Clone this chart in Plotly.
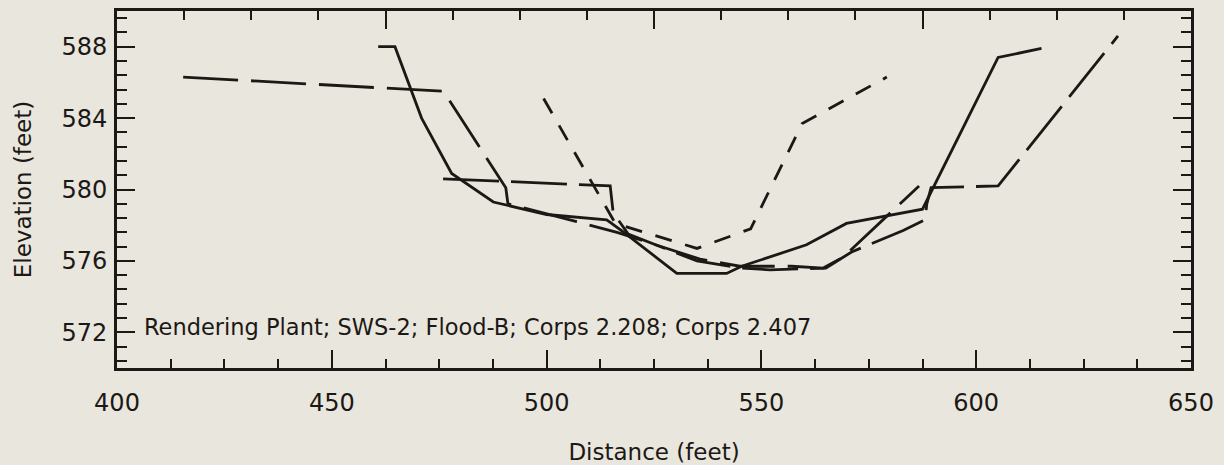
import plotly.graph_objects as go

# Cross-section data (Distance ft, Elevation ft)
solid_x = [460.8, 464.7, 470.9, 477.9, 487.6, 500.0, 514.0, 518.0, 530.3, 541.9, 545.4, 560.5, 569.8, 587.5, 605.1, 615.2]
solid_y = [588.0, 588.0, 584.0, 580.9, 579.3, 578.6, 578.3, 577.6, 575.3, 575.3, 575.7, 576.9, 578.1, 578.9, 587.4, 587.9]

longA_x = [415.4, 476.0, 490.5, 491.0, 507.0, 516.4, 535.7, 545.0, 557.0, 564.4, 569.0, 584.0, 586.7]
longA_y = [586.3, 585.5, 580.1, 579.2, 578.2, 577.6, 576.1, 575.7, 575.7, 575.6, 576.2, 579.6, 580.2]

longB_x = [475.9, 514.8, 515.5, 519.0, 535.0, 545.0, 552.0, 565.0, 571.0, 583.0, 588.1, 588.5, 589.5, 605.1, 633.0]
longB_y = [580.6, 580.2, 578.7, 577.5, 576.0, 575.6, 575.5, 575.6, 576.5, 577.7, 578.3, 579.2, 580.1, 580.2, 588.6]

med_x = [499.3, 516.0, 535.0, 547.5, 559.5, 579.2]
med_y = [585.1, 578.1, 576.7, 577.8, 583.7, 586.3]

label_text = "Rendering Plant; SWS-2; Flood-B; Corps 2.208; Corps 2.407"
x_ticks = [400, 450, 500, 550, 600, 650]
y_ticks = [572, 576, 580, 584, 588]

BG = "#e9e6dd"
INK = "#1c1816"
FONT = "DejaVu Sans, Liberation Sans, Arial, sans-serif"

fig = go.Figure()
fig.add_trace(go.Scatter(x=solid_x, y=solid_y, mode="lines", name="Rendering Plant",
                         line=dict(color=INK, width=2.8)))
fig.add_trace(go.Scatter(x=longA_x, y=longA_y, mode="lines", name="Corps 2.208",
                         line=dict(color=INK, width=2.8, dash="55px,13px")))
fig.add_trace(go.Scatter(x=longB_x, y=longB_y, mode="lines", name="Corps 2.407",
                         line=dict(color=INK, width=2.8, dash="56px,12px")))
fig.add_trace(go.Scatter(x=med_x, y=med_y, mode="lines", name="Flood-B",
                         line=dict(color=INK, width=2.8, dash="17px,14px")))
# carrier trace for the top axis
fig.add_trace(go.Scatter(x=[0, 16], y=[None, None], xaxis="x2", mode="lines",
                         showlegend=False, hoverinfo="skip"))

fig.add_annotation(x=405.8, y=572.3, xref="x", yref="y", text=label_text,
                   showarrow=False, xanchor="left", yanchor="middle",
                   font=dict(family=FONT, size=22.5, color=INK))

fig.update_layout(
    width=1224, height=465,
    margin=dict(l=117, r=33, t=11, b=97),
    paper_bgcolor=BG, plot_bgcolor=BG,
    showlegend=False,
    font=dict(family=FONT, color=INK),
    xaxis=dict(range=[400, 650], tickvals=x_ticks, ticktext=[str(v) for v in x_ticks],
               ticks="inside", ticklen=18, tickwidth=2.2, tickcolor=INK,
               minor=dict(dtick=12.5, tick0=400, ticks="inside", ticklen=9, tickwidth=2.2, tickcolor=INK),
               showline=True, linewidth=2.8, linecolor=INK, mirror=False,
               showgrid=False, zeroline=False, automargin=False,
               tickfont=dict(size=24, family=FONT, color=INK), ticklabelstandoff=11,
               title=dict(text="Distance (feet)", font=dict(size=23, family=FONT, color=INK), standoff=30)),
    xaxis2=dict(range=[0, 16], overlaying="x", side="top", anchor="y",
                dtick=4, tick0=0, ticks="inside", ticklen=18, tickwidth=2.2, tickcolor=INK,
                minor=dict(dtick=1, tick0=0, ticks="inside", ticklen=9, tickwidth=2.2, tickcolor=INK),
                showticklabels=False, showline=True, linewidth=2.8, linecolor=INK,
                showgrid=False, zeroline=False, automargin=False),
    yaxis=dict(range=[570, 590], tickvals=y_ticks, ticktext=[str(v) for v in y_ticks],
               ticks="inside", ticklen=18, tickwidth=2.2, tickcolor=INK,
               minor=dict(dtick=0.8, tick0=572, ticks="inside", ticklen=10, tickwidth=2.2, tickcolor=INK),
               showline=True, linewidth=2.8, linecolor=INK, mirror="ticks",
               showgrid=False, zeroline=False, automargin=False,
               tickfont=dict(size=24, family=FONT, color=INK), ticklabelstandoff=2,
               title=dict(text="Elevation (feet)", font=dict(size=23, family=FONT, color=INK), standoff=24)),
)

fig.write_html("out.html")
